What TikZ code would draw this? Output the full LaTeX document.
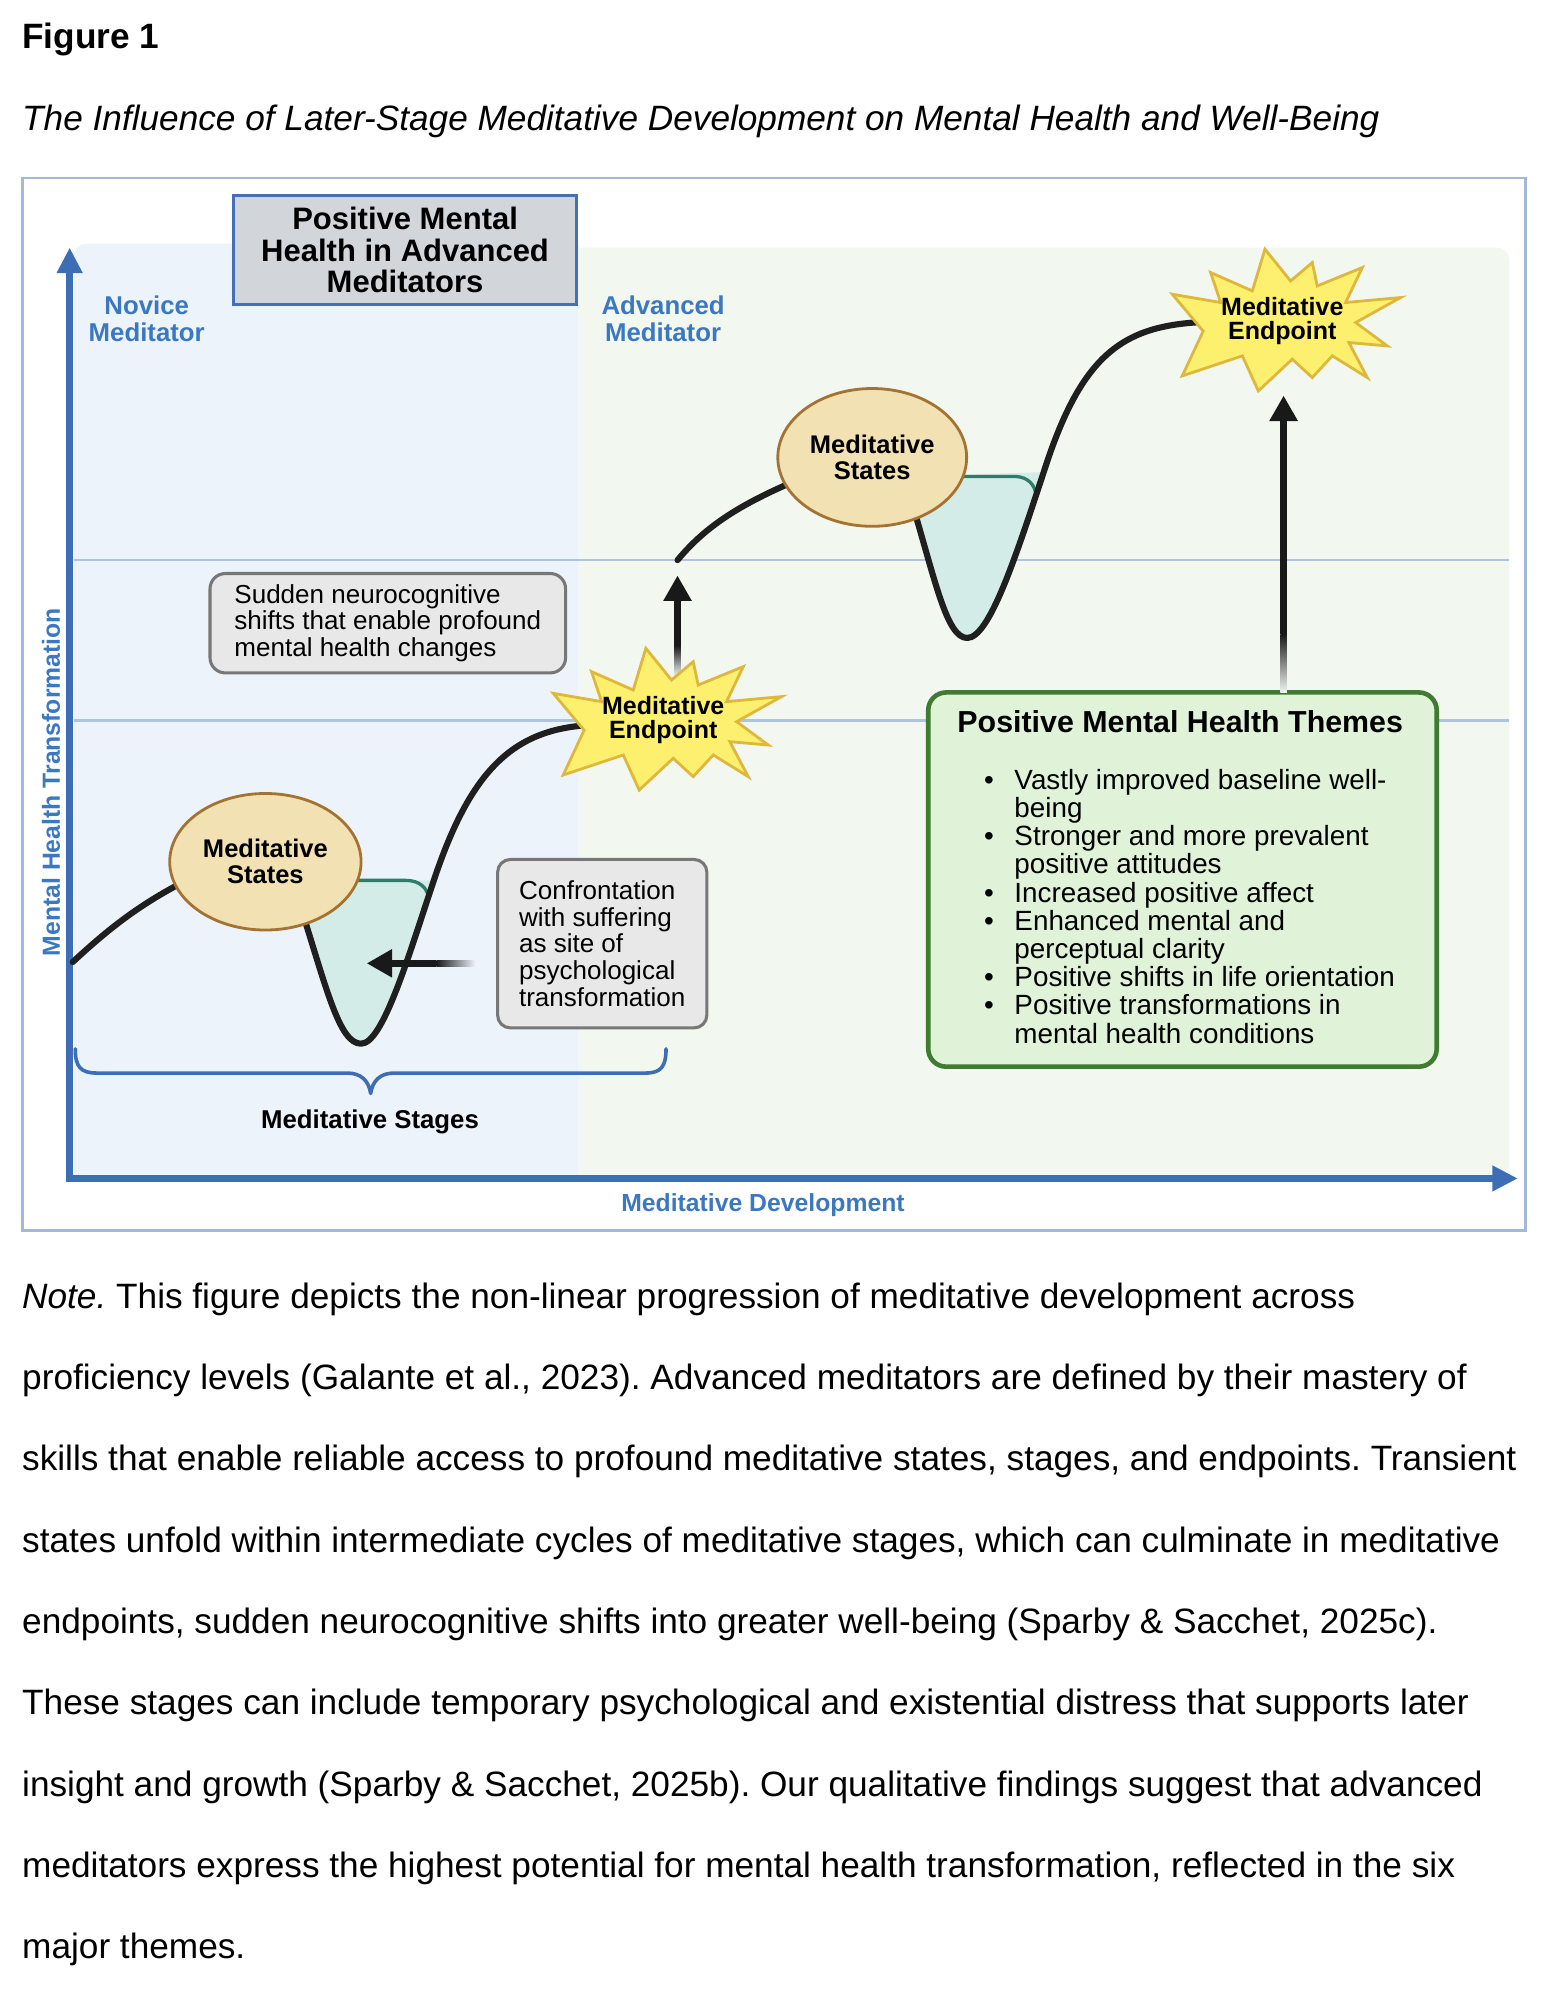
\documentclass[tikz,border=0pt]{standalone}
\usepackage{fontspec}
\setmainfont{Liberation Sans}
\usetikzlibrary{arrows.meta,shapes.geometric,calc,positioning}
\frenchspacing
\definecolor{framecol}{HTML}{A6B8D8}
\definecolor{novicebg}{HTML}{EDF3FB}
\definecolor{advbg}{HTML}{F2F7F0}
\definecolor{gridcol}{HTML}{B0C4E1}
\definecolor{axisblue}{HTML}{3D6DB5}
\definecolor{lblblue}{HTML}{3B78C0}
\definecolor{headfill}{HTML}{D2D5D9}
\definecolor{headdraw}{HTML}{4470B8}
\definecolor{greyfill}{HTML}{E8E8E8}
\definecolor{greydraw}{HTML}{777777}
\definecolor{statefill}{HTML}{F1E1B3}
\definecolor{statedraw}{HTML}{A47332}
\definecolor{dipfill}{HTML}{D3ECE8}
\definecolor{diptop}{HTML}{2F7C6C}
\definecolor{staryellow}{HTML}{FDF06F}
\definecolor{stargold}{HTML}{DDB83C}
\definecolor{themefill}{HTML}{E0F3D9}
\definecolor{themedraw}{HTML}{3F7B30}
\begin{document}
\begin{tikzpicture}[x=0.5pt,y=-0.5pt,
  grpl/.style={text=lblblue, align=center, inner sep=0pt, font=\fontsize{10.1}{10.5}\selectfont\bfseries},
  hdbox/.style={draw=headdraw, fill=headfill, line width=1pt, inner sep=0pt, align=center, font=\fontsize{12.15}{12.25}\selectfont\bfseries},
  greybox/.style={draw=greydraw, fill=greyfill, line width=1.2pt, inner sep=0pt, align=left, font=\fontsize{10.2}{10.4}\selectfont},
  statenode/.style={ellipse, draw=statedraw, fill=statefill, line width=1.1pt, inner sep=0pt, align=center, font=\fontsize{10}{10.15}\selectfont\bfseries},
  endtxt/.style={inner sep=0pt, align=center, font=\fontsize{9.8}{9.15}\selectfont\bfseries},
  axislbl/.style={text=lblblue, inner sep=0pt, font=\fontsize{9.7}{10}\selectfont\bfseries},
  axisline/.style={draw=axisblue, line width=2.6pt, {Triangle[width=9.5pt,length=10pt]}-{Triangle[width=9.5pt,length=10pt]}},
  gridline/.style={draw=gridcol, line width=1pt},
  curve/.style={draw=black!88, line width=2.4pt, line cap=round, line join=round},
  diptopline/.style={draw=diptop, line width=1.3pt, line cap=round},
  blackarr/.style={draw=black!90, line width=2.5pt, -{Triangle[width=10.5pt,length=10pt]}},
  brace/.style={draw=axisblue, line width=1.4pt, line cap=round, line join=round},
  burst/.pic={
    \filldraw[fill=staryellow, draw=stargold, line width=1.1pt, line join=miter]
      (-13.6,-56.2) -- (6.5,-31.3) -- (23.5,-45.7) -- (27.4,-27.4) -- (62.7,-41.8) -- (49.6,-14.4)
      -- (92.7,-18.3) -- (57.5,1.3) -- (82.3,19.6) -- (52.2,17) -- (66.6,44.4) -- (39.2,27.4)
      -- (23.5,44.4) -- (7.8,30) -- (-18.8,54.9) -- (-31.3,27.4) -- (-78.4,43.1) -- (-62,8)
      -- (-86.2,-20.9) -- (-48.3,-14.4) -- (-56.2,-37.9) -- (-23.5,-23.5) -- cycle;
  }]
\useasboundingbox (0,0) rectangle (1214,1567.5);

\node[anchor=base west, inner sep=0pt, font=\fontsize{13.8}{16}\selectfont\bfseries] (fig) at (17,37.9) {Figure 1};
\node[anchor=base west, inner sep=0pt, font=\fontsize{13.8}{16}\selectfont\itshape] (title) at (17,102.5) {The Influence of Later-Stage Meditative Development on Mental Health and Well-Being};

% frame and the two zones
\draw[framecol, line width=1pt] (17.5,139.4) rectangle (1195.4,964.5);
\begin{scope}
  \clip (453.5,0) rectangle (1214,921);
  \fill[advbg, rounded corners=5pt] (430,194) rectangle (1183,950);
\end{scope}
\begin{scope}
  \clip (0,0) rectangle (453.5,921);
  \fill[novicebg, rounded corners=5pt] (57.7,191) rectangle (480,950);
\end{scope}
\draw[gridline] (57.7,439) -- (1183,439);
\draw[gridline] (57.7,564.5) -- (1183,564.5);

\coordinate (o) at (54.6,923.6);
\coordinate (ytip) at (54.6,194);
\coordinate (xtip) at (1189.6,923.6);
\draw[axisline] (ytip) -- (o) -- (xtip);
\node[axislbl, rotate=90] (ylab) at (40,613) {Mental Health Transformation};
\node[axislbl] (xlab) at (598,944.3) {Meditative Development};

\node[grpl] (novice) at (115,250.1) {Novice\\Meditator};
\node[grpl] (adv) at (519.7,250.1) {Advanced\\Meditator};
\node[hdbox, minimum width=134.5pt, minimum height=42.65pt] (head) at (317.5,196.05) {Positive Mental\\Health in Advanced\\Meditators};

\node[greybox, rounded corners=6pt, minimum width=139.35pt, minimum height=38.95pt] (sudden) at (303.95,488.45) {Sudden neurocognitive\\shifts that enable profound\\mental health changes};
\node[greybox, rounded corners=5pt, minimum width=82pt, minimum height=66pt] (conf) at (472,739.6) {Confrontation\\with suffering\\as site of\\psychological\\transformation};

\node[draw=themedraw, fill=themefill, line width=1.8pt, rounded corners=7pt, minimum width=199.25pt, minimum height=146.65pt] (themes) at (926.75,689.35) {};
\node[inner sep=0pt, font=\fontsize{11.9}{12}\selectfont\bfseries] (thtitle) at (925,565.7) {Positive Mental Health Themes};
\node[anchor=north west, inner sep=0pt, align=left, font=\fontsize{10.9}{11.05}\selectfont] (thlist) at (770.8,602.4) {%
\makebox[11.95pt][l]{\textbullet}Vastly improved baseline well-\\
\hspace*{11.95pt}being\\
\makebox[11.95pt][l]{\textbullet}Stronger and more prevalent\\
\hspace*{11.95pt}positive attitudes\\
\makebox[11.95pt][l]{\textbullet}Increased positive affect\\
\makebox[11.95pt][l]{\textbullet}Enhanced mental and\\
\hspace*{11.95pt}perceptual clarity\\
\makebox[11.95pt][l]{\textbullet}Positive shifts in life orientation\\
\makebox[11.95pt][l]{\textbullet}Positive transformations in\\
\hspace*{11.95pt}mental health conditions};

% stages brace
\draw[brace] (59,822) .. controls (59,836) and (63,841) .. (76,841) -- (272,841) .. controls (283,841) and (289,847) .. (290.5,857) .. controls (292,847) and (298,841) .. (309,841) -- (506,841) .. controls (518,841) and (522,836) .. (522,822);
\node[inner sep=0pt, font=\fontsize{10.1}{11}\selectfont\bfseries] (stages) at (290,879.5) {Meditative Stages};

% developmental curve
\coordinate (c1s) at (57,754);
\coordinate (c2s) at (531,439);
\coordinate (dip1) at (287.4,755);
\coordinate (e1) at (519.8,564.3);
\coordinate (e2) at (1005,251.5);
\fill[dipfill] (236,712) .. controls (256,775) and (266,818) .. (283,818) .. controls (300,818) and (320,750) .. (340,690) -- (250,690) -- cycle;
\draw[diptopline] (270,690) -- (318,690) .. controls (329,690) and (335,696) .. (336,704);
\draw[curve] (c1s) .. controls (85,728) and (110,708) .. (150,688) -- (236,712) .. controls (256,775) and (266,818) .. (283,818) .. controls (300,818) and (320,750) .. (340,690) .. controls (370,600) and (405,569) .. (470,568);
\fill[dipfill] (715,395) .. controls (733,455) and (742,500) .. (758,500) .. controls (775,500) and (795,440) .. (818,370) -- (725,373) -- cycle;
\draw[diptopline] (740,373.4) -- (796,373.4) .. controls (806,374) and (811,380) .. (812,388);
\draw[curve] (c2s) .. controls (555,410) and (585,392) .. (640,370) -- (715,395) .. controls (733,455) and (742,500) .. (758,500) .. controls (775,500) and (795,440) .. (818,370) .. controls (850,270) and (885,252) .. (960,252);

% arrows
\coordinate (a1fade) at (531,506);
\shade[top color=black!90, bottom color=advbg] ($(a1fade)+(-2.5,0)$) rectangle ($(a1fade)+(2.5,24)$);
\draw[blackarr, shorten >=6pt] (a1fade) -- (c2s);
\coordinate (a2fade) at (342,755);
\shade[left color=black!90, right color=novicebg] ($(a2fade)+(0,-2.5)$) rectangle ($(conf.west |- a2fade)+(-16.4,2.5)$);
\draw[blackarr] (a2fade) -- (dip1);
\coordinate (a3fade) at (1006,497);
\shade[top color=black!90, bottom color=advbg] ($(a3fade)+(-2.5,0)$) rectangle ($(themes.north -| a3fade)+(2.5,2)$);
\draw[blackarr, shorten >=29.25pt] (a3fade) -- (a3fade |- e2);

\node[statenode, minimum width=75pt, minimum height=53.5pt] (st1) at (208,675.4) {Meditative\\States};
\node[statenode, minimum width=74pt, minimum height=54pt] (st2) at (683.6,358.5) {Meditative\\States};

\pic at (e1) {burst};
\node[endtxt] (end1) at (e1) {Meditative\\Endpoint};
\pic at (e2) {burst};
\node[endtxt] (end2) at (e2) {Meditative\\Endpoint};

\node[anchor=base west, inner sep=0pt, align=left, font=\fontsize{13.8}{31.85}\selectfont] (note) at (17,1535) {%
\textit{Note.} This figure depicts the non-linear progression of meditative development across\\
proficiency levels (Galante et al., 2023). Advanced meditators are defined by their mastery of\\
skills that enable reliable access to profound meditative states, stages, and endpoints. Transient\\
states unfold within intermediate cycles of meditative stages, which can culminate in meditative\\
endpoints, sudden neurocognitive shifts into greater well-being (Sparby \& Sacchet, 2025c).\\
These stages can include temporary psychological and existential distress that supports later\\
insight and growth (Sparby \& Sacchet, 2025b). Our qualitative findings suggest that advanced\\
meditators express the highest potential for mental health transformation, reflected in the six\\
major themes.};
\end{tikzpicture}
\end{document}
